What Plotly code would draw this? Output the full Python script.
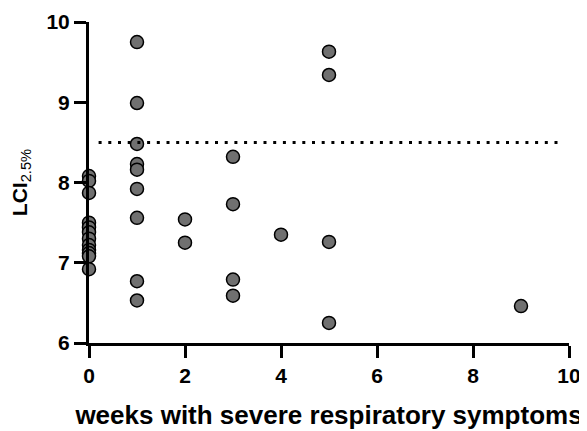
import plotly.graph_objects as go

weeks = [0]*12 + [1]*9 + [2]*2 + [3]*4 + [4] + [5]*4 + [9]
lci = [8.08, 8.02, 7.87, 7.50, 7.44, 7.38, 7.30, 7.22, 7.16, 7.12, 7.08, 6.92,
       9.75, 8.99, 8.48, 8.23, 8.16, 7.92, 7.56, 6.77, 6.53,
       7.54, 7.25,
       8.32, 7.73, 6.79, 6.59,
       7.35,
       9.63, 9.34, 7.26, 6.25,
       6.46]
threshold = 8.5
threshold_x = [0.2, 9.8]
x_ticks = [0, 2, 4, 6, 8, 10]
y_ticks = [6, 7, 8, 9, 10]

FONT = "Liberation Sans, Arial, sans-serif"

fig = go.Figure()
fig.add_trace(go.Scatter(
    x=weeks, y=lci, mode="markers",
    marker=dict(size=13, color="#707070", line=dict(color="black", width=1.5)),
    cliponaxis=False, showlegend=False,
))
fig.add_shape(type="line", xref="x", yref="y",
              x0=threshold_x[0], x1=threshold_x[1], y0=threshold, y1=threshold,
              line=dict(color="black", width=3, dash="3px,6.7px"))

axis_common = dict(showline=True, linecolor="black", linewidth=3,
                   ticks="outside", ticklen=12, tickwidth=3, tickcolor="black",
                   showgrid=False, zeroline=False,
                   tickfont=dict(family=FONT, size=21, color="black", weight="bold"))

fig.update_xaxes(range=[0, 10], tickvals=x_ticks, **axis_common,
                 title=dict(text="<b>weeks with severe respiratory symptoms</b>",
                            font=dict(family=FONT, size=26, color="black"),
                            standoff=20))
fig.update_yaxes(range=[6, 10], tickvals=y_ticks, **axis_common,
                 title=dict(text="<b>LCI</b><sub>2.5%</sub>",
                            font=dict(family=FONT, size=21, color="black"),
                            standoff=22))

# page body has an 8px default margin; size the figure so the plot area lands
# at x 89..569, y 22..343 in the window
fig.update_layout(width=579, height=423,
                  margin=dict(l=81, r=18, t=14, b=88, autoexpand=False),
                  plot_bgcolor="white", paper_bgcolor="white")
fig.write_html("out.html")
